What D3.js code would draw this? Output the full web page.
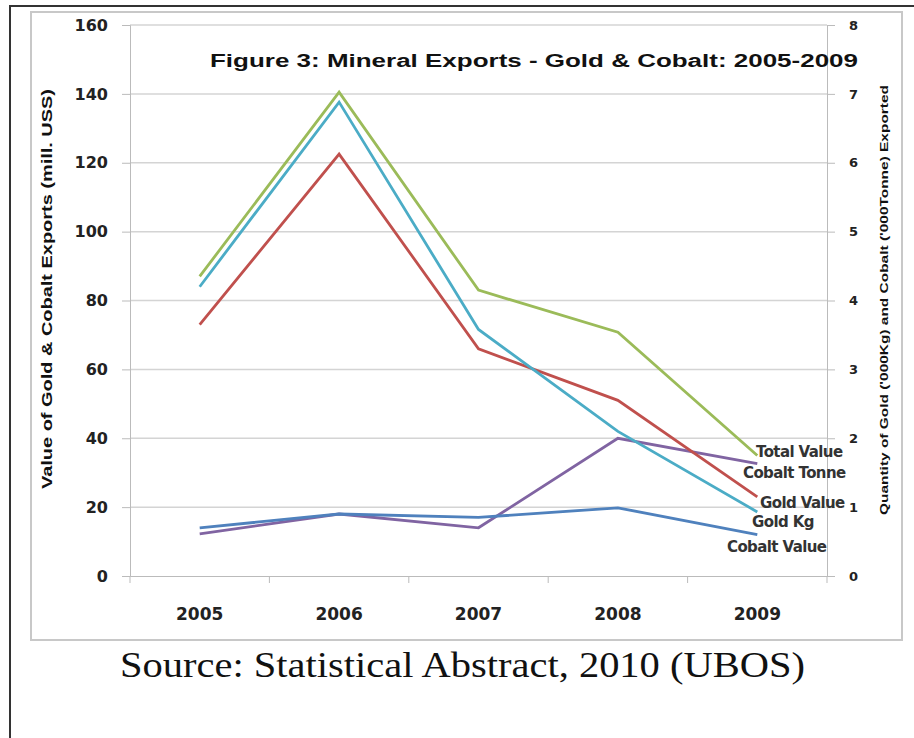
<!DOCTYPE html>
<meta charset="utf-8">
<style>
  body { margin: 0; background: #fff; }
  .tick text { font-family: "DejaVu Sans", sans-serif; font-weight: bold; fill: #222; }
</style>
<body>
<script src="https://d3js.org/d3.v7.min.js"></script>
<script>

// data
var years = ["2005", "2006", "2007", "2008", "2009"];
var totalValue = [87, 140.5, 83, 70.8, 35];      // mill. US$
var goldValue = [73, 122.5, 66, 51, 23];         // mill. US$
var cobaltValue = [14, 18, 17, 19.8, 12];        // mill. US$
var goldKg = [4.2, 6.88, 3.58, 2.1, 0.93];       // '000 Kg
var cobaltTonne = [0.61, 0.9, 0.7, 2.0, 1.63];   // '000 Tonne
var leftTicks = [0, 20, 40, 60, 80, 100, 120, 140, 160];
var rightTicks = [0, 1, 2, 3, 4, 5, 6, 7, 8];

var series = [
  { name: "Total Value", values: totalValue, axis: "left", color: "#9bbb59", lx: 756, ly: 457 },
  { name: "Cobalt Tonne", values: cobaltTonne, axis: "right", color: "#8064a2", lx: 743, ly: 478 },
  { name: "Gold Value", values: goldValue, axis: "left", color: "#c0504d", lx: 760, ly: 508 },
  { name: "Gold Kg", values: goldKg, axis: "right", color: "#4bacc6", lx: 752, ly: 527 },
  { name: "Cobalt Value", values: cobaltValue, axis: "left", color: "#4f81bd", lx: 727, ly: 552 }
];

var W = 914, H = 738;
var margin = { top: 25, right: 87, bottom: 162, left: 130 },
  width = W - margin.left - margin.right,
  height = H - margin.top - margin.bottom;

var svg = d3.select("body").append("svg")
  .attr("width", W)
  .attr("height", H)
  .style("font-family", "'Liberation Sans', Arial, sans-serif");

// outer frame and chart area border
svg.append("rect")
  .attr("x", 10).attr("y", 6)
  .attr("width", W + 20).attr("height", H + 20)
  .attr("fill", "none").attr("stroke", "#333").attr("stroke-width", 2);
svg.append("rect")
  .attr("x", 31).attr("y", 12)
  .attr("width", 871).attr("height", 628)
  .attr("fill", "none").attr("stroke", "#c8c8c8").attr("stroke-width", 2);

var g = svg.append("g")
  .attr("transform", "translate(" + margin.left + "," + margin.top + ")");

var x = d3.scaleBand().domain(years).range([0, width]);
var yL = d3.scaleLinear().domain([0, 160]).range([height, 0]);
var yR = d3.scaleLinear().domain([0, 8]).range([height, 0]);

// gridlines
g.selectAll(".grid")
  .data(leftTicks.filter(function (d) { return d > 0; }))
  .enter().append("line")
  .attr("x1", 0).attr("x2", width)
  .attr("y1", function (d) { return yL(d); })
  .attr("y2", function (d) { return yL(d); })
  .attr("stroke", "#d4d4d4").attr("stroke-width", 1.5);

// left axis
var ax = g.append("g")
  .call(d3.axisLeft(yL).tickValues(leftTicks).tickSize(8).tickPadding(14));
ax.selectAll("text").attr("font-size", 16);
ax.selectAll("line, path").attr("stroke", "#bbb");

// right axis
var axR = g.append("g")
  .attr("transform", "translate(" + width + ",0)")
  .call(d3.axisRight(yR).tickValues(rightTicks).tickSize(8).tickPadding(14));
axR.selectAll("text").attr("font-size", 13);
axR.selectAll("line, path").attr("stroke", "#bbb");

// x axis
var axX = g.append("g")
  .attr("transform", "translate(0," + height + ")")
  .call(d3.axisBottom(x).tickSize(0).tickPadding(32));
axX.selectAll("text").attr("font-size", 17);
axX.selectAll("path").attr("stroke", "#bbb");
axX.selectAll(".sep")
  .data(years.concat(["end"]))
  .enter().append("line")
  .attr("x1", function (d, i) { return i * x.step(); })
  .attr("x2", function (d, i) { return i * x.step(); })
  .attr("y1", 0).attr("y2", 7)
  .attr("stroke", "#bbb");

// lines
series.forEach(function (s) {
  var yy = s.axis === "left" ? yL : yR;
  var line = d3.line()
    .x(function (d, i) { return x(years[i]) + x.bandwidth() / 2; })
    .y(function (d) { return yy(d); });
  g.append("path")
    .datum(s.values)
    .attr("fill", "none")
    .attr("stroke", s.color)
    .attr("stroke-width", 2.8)
    .attr("d", line);
});

// line labels
svg.selectAll(".lbl")
  .data(series)
  .enter().append("text")
  .attr("x", function (d) { return d.lx; })
  .attr("y", function (d) { return d.ly; })
  .style("font-family", "'DejaVu Sans', sans-serif")
  .attr("font-size", 15)
  .attr("font-weight", "bold")
  .attr("letter-spacing", -0.6)
  .attr("fill", "#333")
  .text(function (d) { return d.name; });

// title
svg.append("text")
  .attr("x", 210).attr("y", 67)
  .attr("font-size", 18).attr("font-weight", "bold")
  .attr("fill", "#111")
  .attr("textLength", 648).attr("lengthAdjust", "spacingAndGlyphs")
  .text("Figure  3: Mineral Exports - Gold & Cobalt: 2005-2009");

// axis titles
svg.append("text")
  .attr("transform", "translate(52,289) rotate(-90)")
  .attr("text-anchor", "middle")
  .attr("font-size", 14).attr("font-weight", "bold")
  .attr("fill", "#111")
  .attr("textLength", 400).attr("lengthAdjust", "spacingAndGlyphs")
  .text("Value of Gold & Cobalt Exports (mill. USS)");
svg.append("text")
  .attr("transform", "translate(888,300) rotate(-90)")
  .attr("text-anchor", "middle")
  .attr("font-size", 11).attr("font-weight", "bold")
  .attr("fill", "#111")
  .attr("textLength", 430).attr("lengthAdjust", "spacingAndGlyphs")
  .text("Quantity of Gold ('000Kg) and Cobalt ('000Tonne) Exported");

// source note
svg.append("text")
  .attr("x", 120).attr("y", 677)
  .style("font-family", "'Liberation Serif', 'Times New Roman', serif")
  .attr("font-size", 35)
  .attr("fill", "#111")
  .attr("textLength", 685).attr("lengthAdjust", "spacingAndGlyphs")
  .text("Source: Statistical Abstract, 2010 (UBOS)");

</script>
</body>
